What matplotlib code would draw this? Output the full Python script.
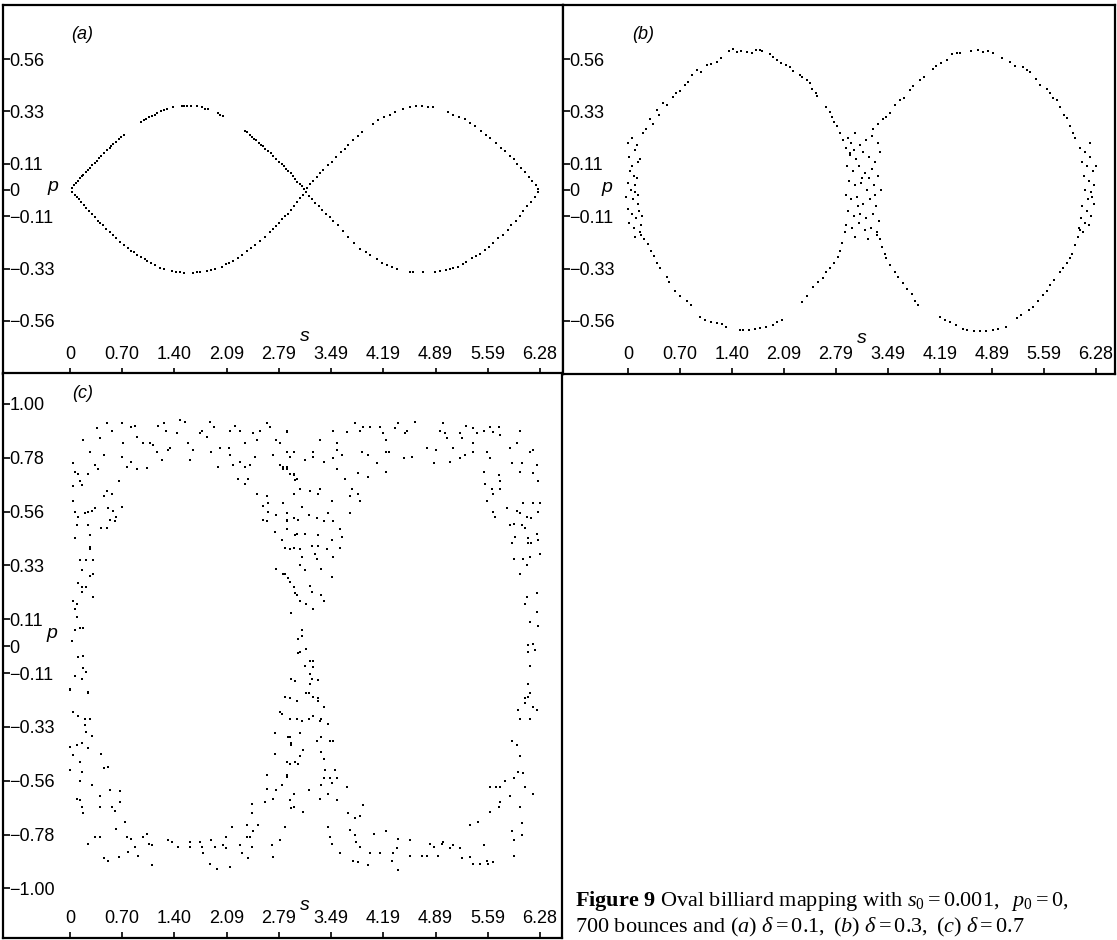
import matplotlib
matplotlib.use('Agg')
import matplotlib.pyplot as plt

# tick values s = 2*pi*k/9 and p = k/9, labelled as in the printed figure
s_ticks = [0, 0.698, 1.396, 2.094, 2.793, 3.491, 4.189, 4.887, 5.585, 6.283]
s_labels = ['0', '0.70', '1.40', '2.09', '2.79', '3.49', '4.19', '4.89', '5.59', '6.28']
p_ticks_ab = [0.5556, 0.3333, 0.1111, 0, -0.1111, -0.3333, -0.5556]
p_labels_ab = ['0.56', '0.33', '0.11', '0', '\u22120.11', '\u22120.33', '\u22120.56']
p_ticks_c = [1.0, 0.7778, 0.5556, 0.3333, 0.1111, 0, -0.1111, -0.3333, -0.5556, -0.7778, -1.0]
p_labels_c = ['1.00', '0.78', '0.56', '0.33', '0.11', '0', '\u22120.11', '\u22120.33',
              '\u22120.56', '\u22120.78', '\u22121.00']

# (a) delta = 0.1
a_ul_s = [0.02, 0.05, 0.08, 0.11, 0.13, 0.16, 0.18, 0.21, 0.24, 0.27, 0.30, 0.33, 0.36, 0.39, 0.42,
          0.46, 0.50, 0.53, 0.55, 0.58, 0.62, 0.65, 0.68, 0.72, 0.95, 0.99, 1.02, 1.06, 1.10, 1.13,
          1.16, 1.22, 1.26, 1.30, 1.38, 1.50, 1.53, 1.56, 1.62, 1.70, 1.76, 1.80, 1.84, 1.98, 2.01,
          2.04, 2.34, 2.37, 2.40, 2.43, 2.46, 2.49, 2.52, 2.55, 2.58, 2.61, 2.64, 2.68, 2.72, 2.76,
          2.80, 2.83, 2.86, 2.89, 2.92, 2.95, 2.98, 3.01, 3.04, 3.07, 3.10, 3.13]
a_ul_p = [0.01, 0.02, 0.03, 0.04, 0.05, 0.06, 0.065, 0.075, 0.085, 0.095, 0.105, 0.115, 0.125, 0.135,
          0.145, 0.155, 0.17, 0.18, 0.185, 0.195, 0.205, 0.215, 0.225, 0.235, 0.29, 0.295, 0.30, 0.31,
          0.315, 0.32, 0.325, 0.335, 0.34, 0.345, 0.35, 0.355, 0.355, 0.355, 0.355, 0.355, 0.35, 0.345,
          0.345, 0.325, 0.32, 0.315, 0.25, 0.245, 0.235, 0.225, 0.215, 0.21, 0.2, 0.19, 0.185, 0.175,
          0.165, 0.155, 0.145, 0.13, 0.12, 0.11, 0.1, 0.09, 0.08, 0.07, 0.06, 0.045, 0.035, 0.025,
          0.015, 0.005]
a_ll_s = [0.03, 0.06, 0.09, 0.12, 0.15, 0.19, 0.22, 0.26, 0.29, 0.33, 0.37, 0.40, 0.44, 0.48, 0.53,
          0.57, 0.62, 0.67, 0.72, 0.77, 0.82, 0.85, 0.90, 0.95, 1.00, 1.03, 1.08, 1.14, 1.20, 1.25,
          1.36, 1.42, 1.47, 1.52, 1.65, 1.70, 1.74, 1.83, 1.88, 1.94, 2.03, 2.08, 2.13, 2.18, 2.24,
          2.30, 2.37, 2.42, 2.47, 2.54, 2.60, 2.67, 2.71, 2.75, 2.79, 2.83, 2.87, 2.91, 2.95, 2.99,
          3.03, 3.07, 3.11]
a_ll_p = [-0.01, -0.02, -0.03, -0.04, -0.05, -0.065, -0.075, -0.09, -0.1, -0.115, -0.13, -0.14,
          -0.15, -0.165, -0.18, -0.19, -0.205, -0.22, -0.235, -0.245, -0.26, -0.265, -0.275, -0.285,
          -0.295, -0.30, -0.31, -0.32, -0.33, -0.335, -0.345, -0.35, -0.35, -0.352, -0.352, -0.35,
          -0.35, -0.345, -0.34, -0.335, -0.325, -0.315, -0.31, -0.3, -0.29, -0.275, -0.26, -0.245,
          -0.235, -0.215, -0.2, -0.18, -0.165, -0.155, -0.14, -0.125, -0.11, -0.1, -0.085, -0.07,
          -0.05, -0.035, -0.02]
a_ur_s = [3.17, 3.21, 3.25, 3.30, 3.34, 3.38, 3.45, 3.50, 3.55, 3.62, 3.67, 3.72, 3.78, 3.85, 3.90,
          4.05, 4.12, 4.20, 4.28, 4.35, 4.45, 4.55, 4.62, 4.70, 4.78, 4.85, 5.05, 5.12, 5.20, 5.28,
          5.35, 5.42, 5.50, 5.56, 5.62, 5.70, 5.76, 5.82, 5.88, 5.93, 5.98, 6.03, 6.08, 6.13, 6.18,
          6.23, 6.26]
a_ur_p = [0.01, 0.025, 0.04, 0.055, 0.07, 0.085, 0.105, 0.12, 0.14, 0.16, 0.175, 0.19, 0.21, 0.23,
          0.245, 0.28, 0.295, 0.31, 0.32, 0.33, 0.345, 0.35, 0.355, 0.355, 0.35, 0.35, 0.33, 0.32,
          0.31, 0.3, 0.285, 0.27, 0.25, 0.235, 0.22, 0.2, 0.18, 0.165, 0.145, 0.13, 0.11, 0.095,
          0.075, 0.055, 0.04, 0.02, 0.005]
a_lr_s = [3.16, 3.20, 3.24, 3.28, 3.33, 3.37, 3.42, 3.47, 3.52, 3.58, 3.65, 3.72, 3.80, 3.88, 3.95,
          4.01, 4.10, 4.17, 4.24, 4.30, 4.37, 4.55, 4.59, 4.72, 4.88, 4.95, 5.02, 5.08, 5.12, 5.18,
          5.25, 5.30, 5.37, 5.43, 5.48, 5.55, 5.60, 5.66, 5.72, 5.79, 5.85, 5.90, 5.96, 6.01, 6.06,
          6.11, 6.16, 6.21, 6.26]
a_lr_p = [-0.01, -0.025, -0.04, -0.055, -0.07, -0.085, -0.10, -0.115, -0.13, -0.15, -0.175, -0.2,
          -0.225, -0.25, -0.265, -0.275, -0.295, -0.31, -0.32, -0.325, -0.335, -0.35, -0.35, -0.35,
          -0.35, -0.345, -0.34, -0.335, -0.33, -0.325, -0.315, -0.305, -0.29, -0.28, -0.27, -0.255,
          -0.24, -0.225, -0.205, -0.19, -0.17, -0.15, -0.13, -0.11, -0.09, -0.07, -0.05, -0.03, -0.01]

# (b) delta = 0.3, (s, p) pairs
b_points = [
    (0.20, 0.24), (0.24, 0.26), (0.30, 0.30), (0.33, 0.28), (0.39, 0.34), (0.42, 0.32), (0.47, 0.37),
    (0.52, 0.36), (0.60, 0.395), (0.65, 0.41), (0.70, 0.42), (0.77, 0.445), (0.80, 0.46), (0.86, 0.49),
    (0.93, 0.51), (0.98, 0.50), (1.06, 0.53), (1.12, 0.535), (1.19, 0.545), (1.25, 0.56), (1.36, 0.59),
    (1.41, 0.60), (1.46, 0.585), (1.52, 0.59), (1.60, 0.585), (1.66, 0.58), (1.72, 0.595), (1.77, 0.595),
    (1.80, 0.59), (1.90, 0.575), (1.95, 0.565), (2.00, 0.55), (2.06, 0.54), (2.12, 0.53), (2.17, 0.52),
    (2.22, 0.505), (2.31, 0.49), (2.34, 0.48), (2.40, 0.465), (2.44, 0.455), (2.47, 0.43), (2.52, 0.41),
    (2.54, 0.40), (2.66, 0.35), (2.71, 0.33), (2.74, 0.31), (2.76, 0.29), (2.80, 0.27), (2.84, 0.24),
    (2.89, 0.21), (2.93, 0.18), (2.98, 0.155),
    (0.0, 0.20), (0.05, 0.22), (0.10, 0.17), (0.02, 0.14), (0.13, 0.12), (0.06, 0.10), (0.16, 0.13),
    (0.08, 0.06), (0.12, 0.05), (0.0, 0.03), (0.04, 0.0), (0.10, -0.01), (-0.02, -0.03), (0.07, -0.04),
    (0.13, -0.06), (0.0, -0.08), (0.05, -0.10), (0.15, -0.09), (0.11, -0.12), (0.02, -0.14),
    (0.17, -0.15), (0.08, -0.16), (0.19, -0.11), (0.12, 0.19), (0.03, 0.08), (0.09, 0.02), (0.14, -0.02),
    (0.18, -0.19), (0.10, -0.20),
    (0.16, -0.18), (0.22, -0.21), (0.27, -0.23), (0.31, -0.26), (0.35, -0.28), (0.39, -0.31),
    (0.43, -0.33), (0.52, -0.37), (0.55, -0.39), (0.63, -0.43), (0.70, -0.45), (0.79, -0.47),
    (0.84, -0.49), (0.97, -0.54), (1.03, -0.55), (1.12, -0.56), (1.19, -0.565), (1.26, -0.57),
    (1.32, -0.58), (1.50, -0.595), (1.55, -0.595), (1.62, -0.595), (1.70, -0.59), (1.77, -0.585),
    (1.85, -0.58), (1.95, -0.575), (2.00, -0.56), (2.07, -0.55), (2.33, -0.475), (2.40, -0.45),
    (2.48, -0.41), (2.55, -0.39), (2.62, -0.375), (2.66, -0.35), (2.71, -0.33), (2.76, -0.31),
    (2.82, -0.285), (2.85, -0.26), (2.87, -0.225), (2.91, -0.18),
    (2.95, 0.22), (3.00, 0.20), (3.05, 0.24), (3.12, 0.19), (3.20, 0.21), (3.28, 0.23), (3.35, 0.20),
    (2.98, 0.15), (3.06, 0.13), (3.15, 0.16), (3.24, 0.14), (3.32, 0.12), (3.38, 0.16), (2.94, 0.10),
    (3.02, 0.08), (3.10, 0.10), (3.18, 0.07), (3.27, 0.09), (3.36, 0.06), (2.97, 0.04), (3.05, 0.02),
    (3.13, 0.03), (3.21, 0.0), (3.30, 0.02), (3.40, 0.0), (2.93, -0.02), (3.00, -0.04), (3.08, -0.03),
    (3.16, -0.06), (3.25, -0.04), (3.33, -0.07), (2.96, -0.09), (3.04, -0.11), (3.12, -0.10),
    (3.20, -0.12), (3.29, -0.10), (3.37, -0.13), (2.92, -0.15), (3.01, -0.16), (3.10, -0.14),
    (3.18, -0.17), (3.26, -0.16), (3.34, -0.19), (3.05, -0.20), (3.22, -0.21), (3.14, 0.05),
    (3.09, -0.07), (3.23, 0.05), (3.03, 0.17), (3.31, -0.02),
    (3.29, 0.26), (3.35, 0.28), (3.42, 0.30), (3.47, 0.31), (3.52, 0.325), (3.58, 0.36), (3.65, 0.38),
    (3.70, 0.39), (3.79, 0.425), (3.83, 0.44), (3.92, 0.465), (3.98, 0.48), (4.09, 0.515), (4.13, 0.525),
    (4.20, 0.54), (4.28, 0.55), (4.35, 0.575), (4.42, 0.58), (4.46, 0.58), (4.60, 0.59), (4.70, 0.595),
    (4.77, 0.585), (4.83, 0.59), (4.90, 0.58), (5.02, 0.56), (5.13, 0.545), (5.20, 0.525), (5.30, 0.52),
    (5.36, 0.51), (5.40, 0.50), (5.48, 0.47), (5.53, 0.445), (5.62, 0.43), (5.66, 0.41), (5.70, 0.39),
    (5.76, 0.38), (5.80, 0.35), (5.85, 0.32), (5.89, 0.305), (5.93, 0.27), (5.97, 0.24), (6.00, 0.22),
    (6.07, 0.18), (6.13, 0.16), (6.20, 0.14), (6.10, 0.12), (6.16, 0.10), (6.24, 0.08), (6.12, 0.06),
    (6.19, 0.04), (6.26, 0.02), (6.14, 0.0), (6.22, -0.01), (6.17, -0.04), (6.25, -0.06), (6.10, -0.07),
    (6.16, -0.09), (6.22, -0.11), (6.08, -0.12), (6.13, -0.14), (6.19, -0.15), (6.05, -0.16),
    (6.11, -0.18), (6.20, 0.20), (6.28, 0.10), (6.23, -0.03),
    (3.34, -0.18), (3.38, -0.21), (3.41, -0.24), (3.45, -0.27), (3.47, -0.29), (3.52, -0.32),
    (3.58, -0.35), (3.62, -0.37), (3.69, -0.395), (3.75, -0.42), (3.81, -0.44), (3.85, -0.47),
    (3.89, -0.49), (4.19, -0.54), (4.25, -0.55), (4.32, -0.56), (4.40, -0.575), (4.50, -0.59),
    (4.55, -0.595), (4.65, -0.60), (4.72, -0.60), (4.80, -0.60), (4.90, -0.595), (4.96, -0.59),
    (5.08, -0.58), (5.22, -0.545), (5.28, -0.53), (5.38, -0.51), (5.44, -0.495), (5.50, -0.47),
    (5.57, -0.445), (5.62, -0.43), (5.66, -0.405), (5.72, -0.38), (5.80, -0.35), (5.84, -0.33),
    (5.89, -0.31), (5.93, -0.29), (5.96, -0.27), (6.00, -0.235), (6.04, -0.20), (6.07, -0.17),
]

# (c) delta = 0.7, (s, p) pairs
c_points = [
    (0.18, 0.85), (0.27, 0.80), (0.36, 0.90), (0.40, 0.86), (0.49, 0.92), (0.56, 0.89), (0.69, 0.92),
    (0.71, 0.84), (0.82, 0.905), (0.87, 0.91), (0.89, 0.865), (0.98, 0.84), (1.07, 0.84), (1.11, 0.83),
    (1.18, 0.91), (1.25, 0.92), (1.29, 0.89), (1.34, 0.82), (1.43, 0.88), (1.47, 0.935), (1.54, 0.925),
    (1.58, 0.84), (1.65, 0.81), (1.74, 0.88), (1.76, 0.89), (1.83, 0.865), (1.87, 0.925), (1.92, 0.905),
    (2.00, 0.82), (2.12, 0.82), (2.14, 0.89), (2.21, 0.91), (2.27, 0.89), (2.34, 0.84), (2.45, 0.88),
    (2.50, 0.85), (2.54, 0.89), (2.63, 0.92), (2.67, 0.905), (2.76, 0.85), (2.81, 0.84), (2.90, 0.885),
    (2.99, 0.80), (2.90, 0.89), (3.34, 0.85), (3.52, 0.89), (3.57, 0.84), (3.70, 0.885), (3.81, 0.92),
    (3.88, 0.89), (3.92, 0.905), (4.01, 0.905), (4.14, 0.905), (4.19, 0.88), (4.23, 0.85), (4.34, 0.90),
    (4.39, 0.92), (4.48, 0.88), (4.50, 0.89), (4.61, 0.925), (4.95, 0.89), (4.99, 0.92), (5.01, 0.88),
    (5.04, 0.86), (5.21, 0.88), (5.24, 0.86), (5.30, 0.91), (5.39, 0.90), (5.44, 0.88), (5.53, 0.89),
    (5.61, 0.905), (5.66, 0.885), (5.73, 0.905), (5.75, 0.87), (6.02, 0.89), (6.19, 0.81), (2.90, 0.80),
    (3.25, 0.80), (3.57, 0.81), (3.90, 0.80), (4.23, 0.80), (4.77, 0.82), (4.90, 0.81), (5.12, 0.82),
    (5.39, 0.84), (5.57, 0.80), (5.88, 0.82), (5.97, 0.84),
    (0.27, 0.80), (0.45, 0.79), (0.69, 0.78), (0.82, 0.76), (0.76, 0.74), (0.89, 0.73), (1.03, 0.735),
    (1.16, 0.80), (1.23, 0.77), (1.31, 0.81), (1.60, 0.77), (1.89, 0.80), (1.98, 0.74), (2.14, 0.79),
    (2.18, 0.75), (2.27, 0.76), (2.34, 0.74), (2.41, 0.75), (2.47, 0.78), (2.25, 0.69), (2.34, 0.67),
    (2.38, 0.69), (2.72, 0.79), (2.81, 0.75), (2.85, 0.73), (2.90, 0.74), (2.94, 0.78), (2.99, 0.71),
    (3.03, 0.69),
    (0.04, 0.755), (0.07, 0.72), (0.11, 0.71), (0.13, 0.68), (0.16, 0.665), (0.04, 0.66), (0.24, 0.71),
    (0.33, 0.75), (0.38, 0.73), (0.65, 0.68), (0.49, 0.64), (0.56, 0.63), (0.45, 0.62), (0.04, 0.60),
    (0.07, 0.555), (0.11, 0.535), (0.20, 0.55), (0.24, 0.555), (0.29, 0.56), (0.33, 0.57), (0.51, 0.57),
    (0.58, 0.56), (0.69, 0.575), (0.62, 0.535), (0.60, 0.515), (0.53, 0.52), (0.42, 0.49), (0.49, 0.49),
    (0.09, 0.50), (0.24, 0.50), (0.27, 0.46), (0.27, 0.41), (0.27, 0.40), (0.07, 0.445), (0.13, 0.355),
    (0.22, 0.355), (0.31, 0.355), (0.16, 0.315), (0.27, 0.29), (0.31, 0.30), (0.11, 0.26), (0.16, 0.245),
    (0.22, 0.245), (0.16, 0.225), (0.31, 0.205), (0.04, 0.185), (0.09, 0.175), (0.07, 0.155),
    (0.09, 0.12), (0.07, 0.065), (0.13, 0.075), (0.18, 0.075), (0.02, 0.02), (0.11, -0.045),
    (0.18, -0.04), (0.18, -0.09), (0.22, -0.105), (0.07, -0.125), (0.16, -0.135), (0.0, -0.175),
    (0.24, -0.19),
    (2.50, 0.63), (2.63, 0.62), (2.65, 0.59), (2.58, 0.58), (2.65, 0.555), (2.76, 0.54), (2.85, 0.59),
    (2.90, 0.55), (2.90, 0.52), (2.99, 0.53), (2.58, 0.52), (2.63, 0.515), (2.74, 0.47), (2.90, 0.485),
    (3.03, 0.465), (2.83, 0.44), (2.94, 0.40), (2.99, 0.405), (3.07, 0.40), (2.76, 0.32), (2.87, 0.30),
    (2.94, 0.265), (2.99, 0.245), (3.03, 0.21), (2.96, 0.135), (3.05, 0.03), (3.05, -0.03),
    (2.96, -0.135), (3.01, -0.145), (2.87, -0.21), (2.94, -0.215),
    (2.85, 0.74), (2.90, 0.73), (2.94, 0.71), (2.99, 0.705), (3.01, 0.685), (3.14, 0.77), (3.25, 0.78),
    (3.39, 0.76), (3.52, 0.775), (3.63, 0.79), (3.57, 0.73), (3.90, 0.80), (3.99, 0.79), (4.10, 0.755),
    (4.23, 0.72), (4.26, 0.80), (4.46, 0.775), (4.57, 0.78), (4.86, 0.755), (5.08, 0.76), (5.21, 0.775),
    (5.28, 0.79), (5.39, 0.80), (5.61, 0.775), (5.91, 0.755), (6.04, 0.755), (6.15, 0.80), (6.24, 0.75),
    (5.53, 0.72), (5.73, 0.705), (5.75, 0.68), (6.02, 0.72), (6.19, 0.715), (6.26, 0.68), (3.68, 0.69),
    (3.85, 0.715), (3.99, 0.70), (2.99, 0.63), (3.07, 0.65), (3.21, 0.64), (3.34, 0.65), (3.50, 0.60),
    (3.32, 0.63), (3.77, 0.65), (3.85, 0.63), (3.88, 0.60), (3.74, 0.62), (3.10, 0.575), (2.90, 0.515),
    (3.05, 0.52), (3.19, 0.54), (3.30, 0.53), (3.39, 0.515), (3.45, 0.55), (3.52, 0.515), (3.61, 0.485),
    (3.01, 0.46), (3.14, 0.465), (3.32, 0.46), (3.50, 0.44), (3.63, 0.45), (2.87, 0.405), (3.23, 0.415),
    (3.32, 0.415), (3.10, 0.37), (3.28, 0.38), (3.30, 0.36), (3.43, 0.40), (3.52, 0.37), (3.61, 0.405),
    (3.74, 0.55), (3.36, 0.32), (3.07, 0.335), (3.14, 0.315), (2.85, 0.30), (2.92, 0.28), (3.50, 0.285),
    (3.21, 0.25), (3.23, 0.225), (3.01, 0.22), (3.36, 0.21), (3.07, 0.185), (3.16, 0.175), (3.39, 0.185),
    (3.25, 0.155), (3.10, 0.065), (3.10, 0.04), (3.16, -0.01), (3.07, -0.025), (3.21, -0.06),
    (3.25, -0.06), (3.14, -0.08), (3.25, -0.085), (3.21, -0.115), (3.23, -0.135), (3.32, -0.14),
    (3.21, -0.155), (3.16, -0.195), (3.25, -0.21), (3.32, -0.215),
    (5.55, 0.67), (5.57, 0.60), (5.64, 0.65), (5.66, 0.63), (5.75, 0.65), (5.66, 0.555), (5.68, 0.535),
    (5.84, 0.57), (5.97, 0.56), (6.02, 0.55), (6.11, 0.535), (6.17, 0.53), (6.19, 0.59), (6.28, 0.59),
    (6.26, 0.555), (6.06, 0.59), (5.93, 0.505), (6.04, 0.50), (6.08, 0.49), (5.88, 0.50), (6.24, 0.465),
    (6.13, 0.445), (6.13, 0.425), (6.17, 0.425), (6.26, 0.44), (5.95, 0.45), (5.91, 0.425), (5.93, 0.36),
    (6.06, 0.36), (6.15, 0.37), (6.28, 0.38), (6.11, 0.335), (6.02, 0.30), (6.11, 0.205), (6.24, 0.22),
    (6.08, 0.175), (6.24, 0.14), (6.15, 0.10), (6.26, 0.085), (6.13, 0.005), (6.19, 0.01),
    (6.13, -0.025), (6.22, -0.015), (6.15, -0.08), (6.13, -0.155), (6.15, -0.195), (6.08, -0.215),
    (0.0, -0.18), (0.24, -0.195), (0.04, -0.27), (0.11, -0.29), (0.20, -0.30), (0.27, -0.30),
    (0.20, -0.325), (0.22, -0.355), (0.29, -0.37), (0.0, -0.415), (0.09, -0.41), (0.16, -0.40),
    (0.04, -0.45), (0.24, -0.42), (0.13, -0.48), (0.0, -0.51), (0.16, -0.52), (0.13, -0.555),
    (0.29, -0.575), (0.09, -0.63), (0.13, -0.635), (0.16, -0.665), (0.18, -0.69), (0.42, -0.445),
    (0.45, -0.505), (0.51, -0.50), (0.40, -0.62), (0.40, -0.665), (0.53, -0.595), (0.56, -0.665),
    (0.60, -0.68), (0.67, -0.60), (0.67, -0.645), (0.24, -0.815), (0.33, -0.79), (0.40, -0.79),
    (0.62, -0.755), (0.74, -0.725), (0.76, -0.79), (0.82, -0.795), (0.78, -0.85), (0.45, -0.875),
    (0.51, -0.885), (0.65, -0.87), (0.87, -0.83), (0.91, -0.865), (0.98, -0.79), (1.03, -0.775),
    (1.05, -0.815), (1.09, -0.82), (1.09, -0.905), (1.31, -0.80), (1.36, -0.81), (1.45, -0.83),
    (1.60, -0.83), (1.60, -0.81), (1.74, -0.81), (1.76, -0.83), (1.78, -0.855), (1.87, -0.90),
    (1.89, -0.80), (1.94, -0.83), (1.96, -0.92), (2.05, -0.82), (2.09, -0.79), (2.14, -0.91),
    (2.16, -0.745), (2.09, -0.835), (2.27, -0.82), (2.30, -0.855), (2.36, -0.74), (2.36, -0.79),
    (2.38, -0.875), (2.43, -0.83), (2.41, -0.79), (2.45, -0.765), (2.52, -0.74), (2.43, -0.65),
    (2.43, -0.69), (2.63, -0.53), (2.63, -0.59), (2.61, -0.645), (2.72, -0.63), (2.76, -0.595),
    (2.74, -0.445), (2.74, -0.36), (2.83, -0.28), (2.94, -0.30), (3.03, -0.225), (3.03, -0.30),
    (2.90, -0.48), (2.94, -0.485), (2.90, -0.54), (2.83, -0.575), (2.94, -0.635), (2.96, -0.67),
    (2.87, -0.745), (2.81, -0.80), (2.70, -0.82), (2.72, -0.87), (2.92, -0.375), (2.96, -0.40),
    (2.81, -0.27), (3.19, -0.195), (3.32, -0.225), (3.39, -0.25), (3.10, -0.31), (3.19, -0.30),
    (3.25, -0.29), (3.36, -0.30), (3.34, -0.31), (3.45, -0.32), (2.94, -0.375), (3.07, -0.36),
    (3.30, -0.39), (3.36, -0.375), (3.48, -0.39), (3.52, -0.39), (2.96, -0.41), (3.12, -0.43),
    (3.07, -0.455), (3.01, -0.48), (3.05, -0.485), (3.36, -0.435), (3.39, -0.465), (2.90, -0.53),
    (3.41, -0.51), (3.54, -0.51), (3.39, -0.545), (3.48, -0.545), (3.57, -0.545), (3.50, -0.565),
    (3.70, -0.58), (3.36, -0.575), (3.45, -0.61), (2.99, -0.61), (3.19, -0.595), (3.34, -0.63),
    (3.57, -0.635), (2.99, -0.665), (3.12, -0.685), (3.72, -0.69), (3.81, -0.71), (3.88, -0.70),
    (3.92, -0.655), (3.74, -0.76), (3.81, -0.78), (3.83, -0.81), (3.45, -0.745), (3.48, -0.79),
    (3.50, -0.815), (3.88, -0.83), (3.61, -0.855), (3.79, -0.885), (3.85, -0.89), (4.01, -0.855),
    (3.99, -0.905), (4.14, -0.855), (4.06, -0.775), (4.23, -0.765), (4.32, -0.855), (4.37, -0.835),
    (4.39, -0.795), (4.30, -0.885), (4.39, -0.925), (4.55, -0.80), (4.55, -0.865), (4.70, -0.865),
    (4.77, -0.865), (4.81, -0.815), (4.86, -0.83), (4.92, -0.865), (4.97, -0.815), (4.99, -0.81),
    (5.08, -0.835), (5.12, -0.82), (5.21, -0.835), (5.24, -0.875), (5.35, -0.87), (5.39, -0.90),
    (5.48, -0.90), (5.57, -0.885), (5.59, -0.90), (5.66, -0.89), (5.35, -0.74), (5.46, -0.725),
    (5.53, -0.82), (5.61, -0.685), (5.73, -0.665), (5.75, -0.645), (5.61, -0.58), (5.70, -0.58),
    (5.75, -0.58), (5.82, -0.555), (5.93, -0.545), (5.99, -0.52), (6.06, -0.525), (6.08, -0.58),
    (5.88, -0.62), (6.02, -0.665), (6.04, -0.73), (6.04, -0.78), (5.91, -0.765), (5.93, -0.80),
    (5.93, -0.865), (6.19, -0.61), (5.91, -0.39), (5.97, -0.41), (6.02, -0.455), (5.99, -0.265),
    (6.08, -0.235), (6.13, -0.21), (6.19, -0.25), (6.24, -0.265), (6.02, -0.30), (6.15, -0.30),
]

caption_1 = r'$\mathbf{Figure\ 9}$ Oval billiard mapping with $s_0 = 0.001,\ \ p_0 = 0,$'
caption_2 = r'700 bounces and ($a$) $\delta = 0.1,$ ($b$) $\delta = 0.3,$ ($c$) $\delta = 0.7$'

tick_font, tick_size = 'Liberation Sans', 13

plt.rcParams['mathtext.fontset'] = 'custom'
plt.rcParams['mathtext.rm'] = 'Liberation Serif'
plt.rcParams['mathtext.it'] = 'Liberation Serif:italic'
plt.rcParams['mathtext.bf'] = 'Liberation Serif:bold'

fig = plt.figure(figsize=(11.17, 9.40), dpi=100)


def panel(rect, s, p, xlim, ylim, yticks, ylabels, tag, tag_xy, p_xy, s_xy):
    ax = fig.add_axes(rect)
    ax.plot(s, p, ls='none', marker='s', ms=1.9, mew=0, color='black')
    ax.set_xlim(xlim)
    ax.set_ylim(ylim)
    ax.set_xticks(s_ticks)
    ax.set_xticklabels(s_labels, family=tick_font, fontsize=tick_size)
    ax.set_yticks(yticks)
    ax.set_yticklabels(ylabels, family=tick_font, fontsize=tick_size)
    ax.tick_params(axis='x', direction='in', length=4, width=1.2, pad=-8)
    ax.tick_params(axis='y', direction='in', length=5, width=1.2, pad=-4.5)
    for t in ax.get_xticklabels():
        t.set_verticalalignment('bottom')
    for t in ax.get_yticklabels():
        t.set_horizontalalignment('left')
    for sp in ax.spines.values():
        sp.set_linewidth(1.6)
    ax.text(tag_xy[0], tag_xy[1], tag, family=tick_font, fontsize=tick_size,
            style='italic', ha='left', va='center')
    ax.text(p_xy[0], p_xy[1], 'p', family=tick_font, fontsize=tick_size + 1,
            style='italic', ha='center', va='center')
    ax.text(s_xy[0], s_xy[1], 's', family=tick_font, fontsize=tick_size + 1,
            style='italic', ha='center', va='center')
    return ax


panel([3 / 1117, 566 / 940, 560 / 1117, 369 / 940],
      a_ul_s + a_ll_s + a_ur_s + a_lr_s, a_ul_p + a_ll_p + a_ur_p + a_lr_p,
      (-0.896, 6.59), (-0.781, 0.785), p_ticks_ab, p_labels_ab,
      '(a)', (0.02, 0.66), (-0.23, 0.013), (3.14, -0.62))

panel([563 / 1117, 566 / 940, 552 / 1117, 369 / 940],
      [q[0] for q in b_points], [q[1] for q in b_points],
      (-0.872, 6.537), (-0.781, 0.785), p_ticks_ab, p_labels_ab,
      '(b)', (0.05, 0.66), (-0.28, 0.01), (3.14, -0.63))

panel([3 / 1117, 2 / 940, 559 / 1117, 565 / 940],
      [q[0] for q in c_points], [q[1] for q in c_points],
      (-0.896, 6.578), (-1.205, 1.128), p_ticks_c, p_labels_c,
      '(c)', (0.03, 1.045), (-0.24, 0.054), (3.14, -1.07))

fig.text(575 / 1117, 34 / 940, caption_1, family='Liberation Serif', fontsize=16)
fig.text(575 / 1117, 8 / 940, caption_2, family='Liberation Serif', fontsize=16)

fig.savefig('out.png', dpi=100)
